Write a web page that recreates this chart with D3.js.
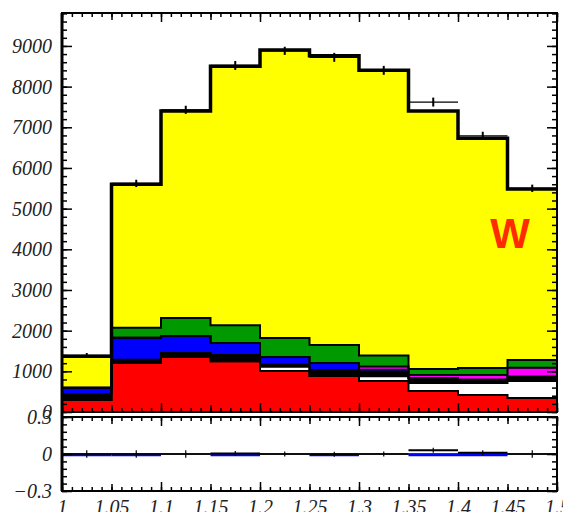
<!DOCTYPE html>
<html>
<head>
<meta charset="utf-8">
<script src="https://cdn.jsdelivr.net/npm/d3@7"></script>
<style>
body { margin: 0; background: #fff; }
</style>
</head>
<body>
<script>
// bin edges (x)
var edges = [1.0, 1.05, 1.1, 1.15, 1.2, 1.25, 1.3, 1.35, 1.4, 1.45, 1.5];

// stacked MC components, bottom to top
var red     = [295, 1210, 1350, 1250, 1010, 885, 760, 515, 420, 345];
var white   = [0, 0, 0, 0, 100, 0, 120, 195, 295, 420];
var dark    = [150, 75, 100, 150, 50, 150, 100, 125, 75, 100];
var blue    = [150, 540, 420, 295, 195, 170, 60, 0, 0, 0];
var magenta = [0, 0, 0, 0, 0, 0, 80, 75, 120, 220];
var green   = [0, 245, 440, 440, 465, 440, 270, 150, 170, 195];
var yellow  = [775, 3530, 5090, 6365, 7080, 7115, 7010, 6340, 5650, 4200];

// data points
var dataVals = [1390, 5620, 7430, 8520, 8880, 8720, 8400, 7620, 6790, 5500];
var dataErr  = [60, 90, 100, 110, 100, 110, 110, 110, 100, 90];

// ratio panel
var ratioVals = [0, 0, 0, 0.004, 0, -0.002, 0, 0.03, 0.01, 0];
var ratioErr  = [0.03, 0.03, 0.03, 0.02, 0.02, 0.02, 0.02, 0.02, 0.02, 0.03];
var blueVals  = [-0.008, -0.008, null, -0.008, null, -0.008, null, -0.008, -0.008, null];

// tick labels
var yTicks = [0, 1000, 2000, 3000, 4000, 5000, 6000, 7000, 8000, 9000];
var rTicks = [-0.3, 0, 0.3];
var xTicks = [1, 1.05, 1.1, 1.15, 1.2, 1.25, 1.3, 1.35, 1.4, 1.45, 1.5];
var xTickLabels = ["1", "1.05", "1.1", "1.15", "1.2", "1.25", "1.3", "1.35", "1.4", "1.45", "1.5"];

var layers = ["red", "white", "dark", "blue", "magenta", "green", "yellow"];
var colors = {red: "#ff0000", white: "#ffffff", dark: "#000000", blue: "#0000ff",
              magenta: "#ff00ff", green: "#009900", yellow: "#ffff00"};
var series = {red: red, white: white, dark: dark, blue: blue, magenta: magenta, green: green, yellow: yellow};

var rows = edges.slice(0, -1).map(function(e, i) {
  var r = {x0: e, x1: edges[i + 1]};
  layers.forEach(function(k) { r[k] = series[k][i]; });
  return r;
});

var W = 563, H = 512;
var svg = d3.select("body").append("svg").attr("width", W).attr("height", H);

var x = d3.scaleLinear().domain([1.0, 1.5]).range([62, 557]);
var y = d3.scaleLinear().domain([0, 9810]).range([412, 13]);
var yr = d3.scaleLinear().domain([-0.3, 0.3]).range([491, 417]);

svg.append("clipPath").attr("id", "clipTop")
  .append("rect").attr("x", 62).attr("y", 13).attr("width", 495).attr("height", 399);

var stack = d3.stack().keys(layers)(rows);
var plot = svg.append("g").attr("clip-path", "url(#clipTop)");

// fills
stack.forEach(function(s) {
  plot.append("g").attr("shape-rendering", "crispEdges")
    .selectAll("rect").data(s).enter().append("rect")
    .attr("x", function(d) { return x(d.data.x0); })
    .attr("width", function(d) { return x(d.data.x1) - x(d.data.x0) + 0.5; })
    .attr("y", function(d) { return y(d[1]); })
    .attr("height", function(d) { return y(d[0]) - y(d[1]); })
    .attr("fill", colors[s.key]);
});

// outlines of each layer top
var step = d3.line().curve(d3.curveStepAfter)
  .x(function(d) { return x(d[0]); })
  .y(function(d) { return y(d[1]); });

stack.forEach(function(s, li) {
  var pts = edges.map(function(e, i) { return [e, s[Math.min(i, s.length - 1)][1]]; });
  plot.append("path").attr("d", step(pts))
    .attr("fill", "none").attr("stroke", "#000")
    .attr("stroke-width", li === stack.length - 1 ? 3.5 : 2);
});

// data
var dg = plot.append("g").attr("stroke", "#000").attr("stroke-width", 1.2);
dg.selectAll("line.h").data(dataVals).enter().append("line")
  .attr("x1", function(d, i) { return x(edges[i]); })
  .attr("x2", function(d, i) { return x(edges[i + 1]); })
  .attr("y1", function(d) { return y(d); })
  .attr("y2", function(d) { return y(d); });
dg.selectAll("line.v").data(dataVals).enter().append("line")
  .attr("x1", function(d, i) { return x((edges[i] + edges[i + 1]) / 2); })
  .attr("x2", function(d, i) { return x((edges[i] + edges[i + 1]) / 2); })
  .attr("y1", function(d, i) { return y(d - dataErr[i]); })
  .attr("y2", function(d, i) { return y(d + dataErr[i]); })
  .attr("stroke-width", 2);

// ratio panel
var rp = svg.append("g");
rp.append("line").attr("x1", x(1.0)).attr("x2", x(1.5))
  .attr("y1", yr(0)).attr("y2", yr(0)).attr("stroke", "#000").attr("stroke-width", 1.5);
blueVals.forEach(function(v, i) {
  if (v === null) return;
  rp.append("line").attr("x1", x(edges[i])).attr("x2", x(edges[i + 1]))
    .attr("y1", yr(v)).attr("y2", yr(v)).attr("stroke", "#0000ff").attr("stroke-width", 2.5);
});
var rg = rp.append("g").attr("stroke", "#000");
rg.selectAll("line.h").data(ratioVals).enter().append("line")
  .attr("x1", function(d, i) { return x(edges[i]); })
  .attr("x2", function(d, i) { return x(edges[i + 1]); })
  .attr("y1", function(d) { return yr(d); })
  .attr("y2", function(d) { return yr(d); })
  .attr("stroke-width", function(d) { return d === 0 ? 1.5 : 2; });
rg.selectAll("line.v").data(ratioVals).enter().append("line")
  .attr("x1", function(d, i) { return x((edges[i] + edges[i + 1]) / 2); })
  .attr("x2", function(d, i) { return x((edges[i] + edges[i + 1]) / 2); })
  .attr("y1", function(d, i) { return yr(d - ratioErr[i]); })
  .attr("y2", function(d, i) { return yr(d + ratioErr[i]); })
  .attr("stroke-width", 1.2);

// axes helpers
function clean(g) {
  g.select(".domain").remove();
  g.selectAll("line").attr("stroke", "#000").attr("stroke-width", 1.5);
  g.selectAll("text")
    .attr("font-family", "'Liberation Serif', 'DejaVu Serif', serif")
    .attr("font-style", "italic")
    .attr("font-size", 20)
    .attr("fill", "#222");
}

var xMinor = d3.range(1.0, 1.5001, 0.01);
var xMid = d3.range(1.05, 1.5, 0.1);
var xMajor = d3.range(1.0, 1.5001, 0.1);

function xTicksAt(yPos, up, withLabels) {
  var mk = up ? d3.axisBottom : d3.axisTop;
  [[xMinor, 4], [xMid, 7], [xMajor, 9]].forEach(function(t) {
    svg.append("g").attr("transform", "translate(0," + yPos + ")")
      .call(mk(x).tickValues(t[0]).tickSize(-t[1]).tickFormat(""))
      .call(clean);
  });
  if (withLabels) {
    svg.append("g").attr("transform", "translate(0," + yPos + ")")
      .call(d3.axisBottom(x).tickValues(xTicks).tickSize(0).tickPadding(9)
        .tickFormat(function(d, i) { return xTickLabels[i]; }))
      .call(clean);
  }
}

// top panel ticks
svg.append("g").attr("transform", "translate(62,0)")
  .call(d3.axisLeft(y).tickValues(yTicks).tickSize(-10).tickPadding(10).tickFormat(d3.format("d")))
  .call(clean);
svg.append("g").attr("transform", "translate(62,0)")
  .call(d3.axisLeft(y).tickValues(d3.range(0, 9801, 200)).tickSize(-5).tickFormat(""))
  .call(clean);
svg.append("g").attr("transform", "translate(557,0)")
  .call(d3.axisRight(y).tickValues(yTicks).tickSize(-10).tickFormat(""))
  .call(clean);
svg.append("g").attr("transform", "translate(557,0)")
  .call(d3.axisRight(y).tickValues(d3.range(0, 9801, 200)).tickSize(-5).tickFormat(""))
  .call(clean);
xTicksAt(13, false, false);
xTicksAt(412, true, false);

// ratio panel ticks
svg.append("g").attr("transform", "translate(62,0)")
  .call(d3.axisLeft(yr).tickValues(rTicks).tickSize(-10).tickPadding(10).tickFormat(d3.format("")))
  .call(clean);
svg.append("g").attr("transform", "translate(62,0)")
  .call(d3.axisLeft(yr).tickValues(d3.range(-0.3, 0.3001, 0.06)).tickSize(-5).tickFormat(""))
  .call(clean);
svg.append("g").attr("transform", "translate(557,0)")
  .call(d3.axisRight(yr).tickValues(rTicks).tickSize(-10).tickFormat(""))
  .call(clean);
svg.append("g").attr("transform", "translate(557,0)")
  .call(d3.axisRight(yr).tickValues(d3.range(-0.3, 0.3001, 0.06)).tickSize(-5).tickFormat(""))
  .call(clean);
xTicksAt(417, false, false);
xTicksAt(491, true, true);

// frames
svg.append("rect").attr("x", 62).attr("y", 13).attr("width", 495).attr("height", 399)
  .attr("fill", "none").attr("stroke", "#000").attr("stroke-width", 2);
svg.append("rect").attr("x", 62).attr("y", 417).attr("width", 495).attr("height", 74)
  .attr("fill", "none").attr("stroke", "#000").attr("stroke-width", 2);
svg.append("line").attr("x1", 62).attr("x2", 62).attr("y1", 13).attr("y2", 491)
  .attr("stroke", "#000").attr("stroke-width", 3);

// label
svg.append("text").attr("x", 510).attr("y", 248).attr("text-anchor", "middle")
  .attr("font-family", "Liberation Sans, Arial, sans-serif").attr("font-weight", "bold")
  .attr("font-size", 42).attr("fill", "#ff2a00").text("W");
</script>
</body>
</html>
